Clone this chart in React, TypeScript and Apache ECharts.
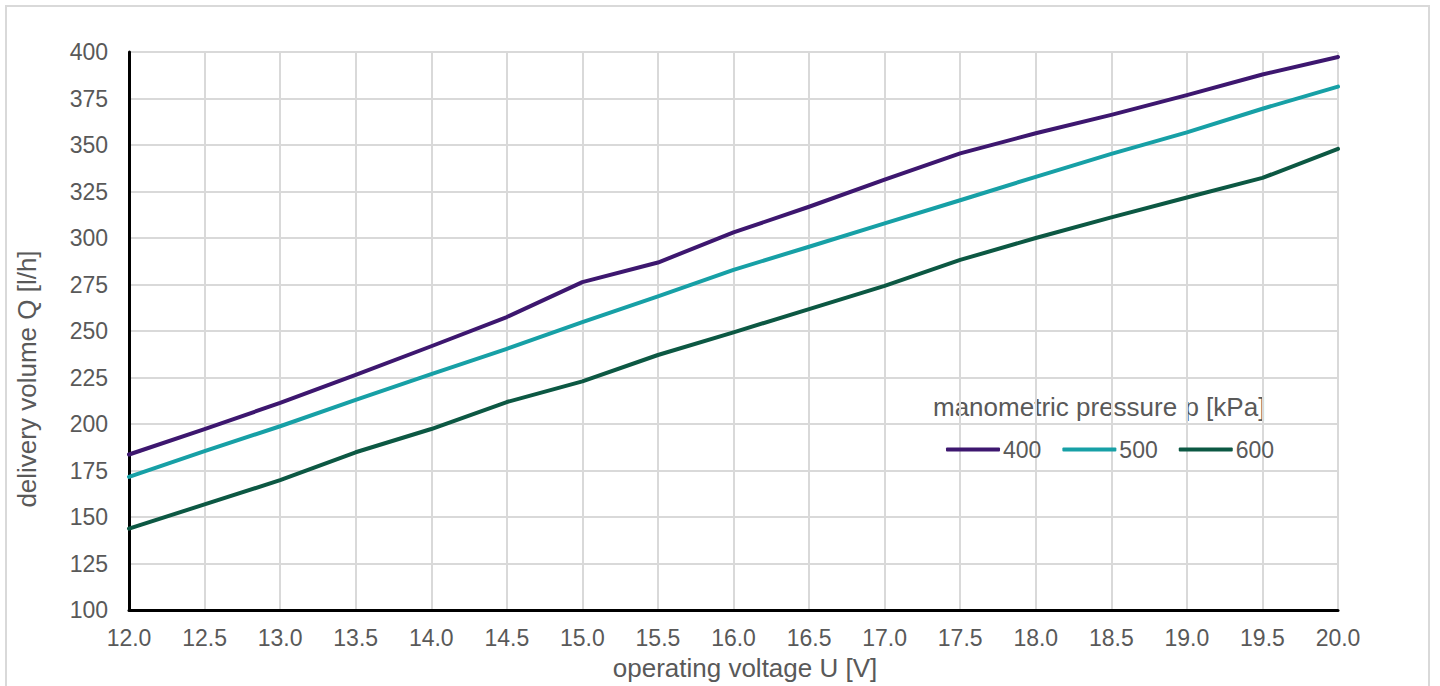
import React, { useEffect, useRef } from "react";
import * as echarts from "echarts";

const voltage = [12.0, 12.5, 13.0, 13.5, 14.0, 14.5, 15.0, 15.5, 16.0, 16.5, 17.0, 17.5, 18.0, 18.5, 19.0, 19.5, 20.0];
const p400 = [183.6, 197.3, 211.3, 226.4, 241.8, 257.5, 276.3, 286.8, 303.0, 316.8, 331.4, 345.5, 356.3, 366.2, 376.8, 387.9, 397.3];
const p500 = [171.6, 185.4, 198.8, 213.0, 226.8, 240.4, 254.8, 268.6, 282.9, 295.3, 307.9, 320.3, 332.9, 345.2, 356.8, 369.5, 381.4];
const p600 = [143.7, 156.8, 169.8, 184.8, 197.3, 211.8, 222.9, 237.1, 249.3, 261.8, 274.3, 288.2, 300.0, 311.1, 321.8, 332.3, 347.9];
const seriesNames = ["400", "500", "600"];
const seriesColors = ["#3d176f", "#17a0a6", "#0c5843"];

const FONT = "'Liberation Sans', Arial, sans-serif";
const TXT = "#595959";

export default function App() {
  const ref = useRef<HTMLDivElement>(null);
  useEffect(() => {
    if (!ref.current) return;
    const chart = echarts.init(ref.current, undefined, { renderer: "svg" });
    const all = [p400, p500, p600];
    chart.setOption({
      animation: false,
      backgroundColor: "#ffffff",
      textStyle: { fontFamily: FONT },
      grid: { left: 129, top: 52, right: 102, bottom: 76, containLabel: false },
      xAxis: {
        type: "value",
        min: 12,
        max: 20,
        interval: 0.5,
        axisLine: { show: true, onZero: false, lineStyle: { color: "#000", width: 3 } },
        axisTick: { show: false },
        splitLine: { show: true, lineStyle: { color: "#d9d9d9", width: 2 } },
        axisLabel: {
          color: TXT,
          fontSize: 23,
          fontFamily: FONT,
          margin: 16,
          formatter: (v: number) => v.toFixed(1),
        },
      },
      yAxis: {
        type: "value",
        min: 100,
        max: 400,
        interval: 25,
        axisLine: { show: true, lineStyle: { color: "#000", width: 3 } },
        axisTick: { show: false },
        splitLine: { show: true, lineStyle: { color: "#d9d9d9", width: 2 } },
        axisLabel: { color: TXT, fontSize: 23, fontFamily: FONT, margin: 21 },
      },
      legend: {
        show: true,
        left: 941,
        top: 433,
        icon: "roundRect",
        itemWidth: 54,
        itemHeight: 4,
        itemGap: 21,
        textStyle: { color: TXT, fontSize: 23, fontFamily: FONT, padding: [0, 0, 0, -2] },
        data: seriesNames,
      },
      graphic: [
        {
          type: "rect",
          shape: { x: 6, y: 6, width: 1423, height: 720 },
          style: { fill: "none", stroke: "#d9d9d9", lineWidth: 2 },
          silent: true,
          z: -10,
        },
        {
          type: "text",
          x: 933,
          y: 407,
          style: {
            text: "manometric pressure p [kPa]",
            fill: TXT,
            font: `26px ${FONT}`,
            textVerticalAlign: "middle",
            verticalAlign: "middle",
          },
        },
        {
          type: "text",
          x: 745,
          y: 668,
          style: {
            text: "operating voltage U [V]",
            fill: TXT,
            font: `26px ${FONT}`,
            align: "center",
            textAlign: "center",
            verticalAlign: "middle",
            textVerticalAlign: "middle",
          },
        },
        {
          type: "text",
          x: 27,
          y: 379,
          rotation: Math.PI / 2,
          style: {
            text: "delivery volume Q [l/h]",
            fill: TXT,
            font: `26px ${FONT}`,
            align: "center",
            textAlign: "center",
            verticalAlign: "middle",
            textVerticalAlign: "middle",
          },
        },
      ],
      series: all.map((vals, i) => ({
        name: seriesNames[i],
        type: "line",
        showSymbol: false,
        symbol: "none",
        smooth: false,
        color: seriesColors[i],
        lineStyle: { color: seriesColors[i], width: 4, cap: "round", join: "round" },
        itemStyle: { color: seriesColors[i] },
        data: voltage.map((x, j) => [x, vals[j]]),
        z: 3 + i,
      })),
    });
    return () => chart.dispose();
  }, []);
  return (
    <div
      ref={ref}
      style={{ position: "absolute", left: 0, top: 0, width: 1440, height: 686 }}
    />
  );
}
